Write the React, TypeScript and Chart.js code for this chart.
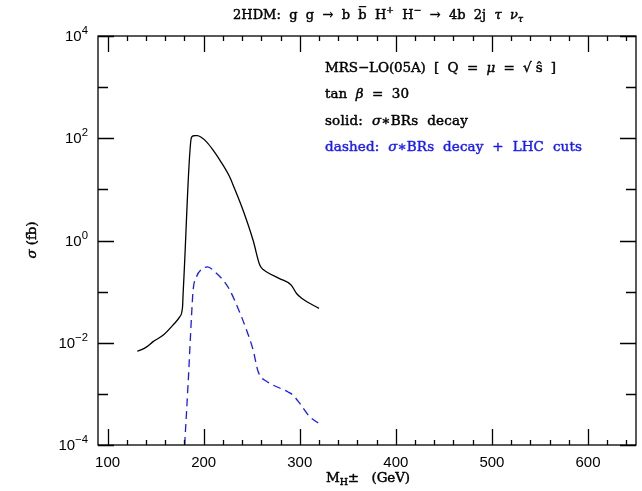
import React, { useEffect, useRef } from "react";
import { Chart, registerables } from "chart.js";

Chart.register(...registerables);

// ---- data (M_H± in GeV, sigma in fb) ----
const solidMass = [131, 136, 141, 147, 158, 168, 175, 178, 178.6, 179.3, 187.3, 190, 193.5, 197, 203, 210, 217, 227, 232, 241, 251.5, 258.4, 262, 266, 279, 291, 296.7, 302, 320];
const solidSigma = [0.0068, 0.0074, 0.0084, 0.0104, 0.0141, 0.0221, 0.032, 0.05, 0.092, 0.168, 104, 112, 113, 106, 85, 58, 37, 17.7, 10.5, 3.9, 1.0, 0.33, 0.27, 0.24, 0.18, 0.135, 0.092, 0.074, 0.047];

const dashedMass = [180.2, 183.8, 187.3, 189, 192.5, 197.7, 204, 211.6, 220.2, 227.2, 235.8, 244.6, 251.5, 256.5, 260, 265, 272.3, 287.9, 293.1, 300.1, 310.5, 320];
const dashedSigma = [0.0001, 0.0016, 0.032, 0.107, 0.195, 0.272, 0.305, 0.244, 0.168, 0.107, 0.0469, 0.0177, 0.00716, 0.0028, 0.0021, 0.00178, 0.00148, 0.00109, 0.00094, 0.00065, 0.000355, 0.000263];

const xMin = 90;
const xMax = 650;
const xTickValues = [100, 120, 140, 160, 180, 200, 220, 240, 260, 280, 300, 320, 340, 360, 380, 400, 420, 440, 460, 480, 500, 520, 540, 560, 580, 600, 620, 640];
const xLabelValues = [100, 200, 300, 400, 500, 600];
const yDecades = [-4, -3, -2, -1, 0, 1, 2, 3, 4];
const yLabelExponents = [-4, -2, 0, 2, 4];

const BLUE = "rgb(25,25,255)";
const SERIF = "'DejaVu Serif', serif";
const SANS = "'Liberation Sans', Arial, sans-serif";

type Seg = { t: string; size?: number; dy?: number; italic?: boolean; over?: boolean };

function segFont(s: Seg, base: number, fam: string) {
  const sz = Math.round(base * (s.size ?? 1) * 10) / 10;
  return `${s.italic ? "italic " : ""}${sz}px ${fam}`;
}

function naturalWidth(ctx: CanvasRenderingContext2D, segs: Seg[], base: number, fam: string) {
  let w = 0;
  let n = 0;
  (ctx as any).letterSpacing = "0px";
  for (const s of segs) {
    ctx.font = segFont(s, base, fam);
    w += ctx.measureText(s.t).width;
    n += [...s.t].length;
  }
  return { w, n };
}

function drawRich(
  ctx: CanvasRenderingContext2D,
  segs: Seg[],
  x: number,
  y: number,
  base: number,
  fam: string,
  weight: number,
  color: string,
  targetW: number | null,
  align: "left" | "right" | "center" = "left"
) {
  const { w, n } = naturalWidth(ctx, segs, base, fam);
  let ls = 0;
  if (targetW !== null && n > 0) ls = Math.max(-1, Math.min(5, (targetW - w) / n));
  const total = w + ls * n;
  let cx = align === "left" ? x : align === "right" ? x - total : x - total / 2;
  ctx.fillStyle = color;
  ctx.strokeStyle = color;
  ctx.textAlign = "left";
  ctx.textBaseline = "alphabetic";
  ctx.lineJoin = "round";
  for (const s of segs) {
    ctx.font = segFont(s, base, fam);
    (ctx as any).letterSpacing = "0px";
    const sw = ctx.measureText(s.t).width;
    (ctx as any).letterSpacing = `${ls}px`;
    ctx.fillText(s.t, cx, y + (s.dy ?? 0));
    if (weight > 0) {
      ctx.lineWidth = weight;
      ctx.strokeText(s.t, cx, y + (s.dy ?? 0));
    }
    if (s.over) {
      ctx.lineWidth = 1.2;
      ctx.beginPath();
      ctx.moveTo(cx + 0.5, y - base * 0.95);
      ctx.lineTo(cx + sw - 0.5, y - base * 0.95);
      ctx.stroke();
    }
    cx += sw + ls * [...s.t].length;
  }
  (ctx as any).letterSpacing = "0px";
}

const titleSegs: Seg[] = [
  { t: "2HDM:  g  g  \u2192  b  " },
  { t: "b", over: true },
  { t: "  H" },
  { t: "+", size: 0.7, dy: -6 },
  { t: "  H" },
  { t: "\u2212", size: 0.7, dy: -6 },
  { t: "  \u2192  4b  2j  " },
  { t: "\u03c4", italic: true },
  { t: "  " },
  { t: "\u03bd", italic: true },
  { t: "\u03c4", italic: true, size: 0.7, dy: 3 },
];

const annLine1: Seg[] = [{ t: "MRS\u2212LO(05A)  [  Q  =  " }, { t: "\u03bc", italic: true }, { t: "  =  \u221a \u015d  ]" }];
const annLine2: Seg[] = [{ t: "tan  " }, { t: "\u03b2", italic: true }, { t: "  =  30" }];
const annLine3: Seg[] = [{ t: "solid:  " }, { t: "\u03c3", italic: true }, { t: "\u2217BRs  decay" }];
const annLine4: Seg[] = [{ t: "dashed:  " }, { t: "\u03c3", italic: true }, { t: "\u2217BRs  decay  +  LHC  cuts" }];

const xTitleSegs: Seg[] = [{ t: "M" }, { t: "H", size: 0.7, dy: 3 }, { t: "\u00b1" }, { t: "   (GeV)" }];
const yTitleSegs: Seg[] = [{ t: "\u03c3", italic: true }, { t: " (fb)" }];

const TW = 0.45;

const framePlugin = {
  id: "frameAndText",
  afterDraw(chart: any) {
    const ctx: CanvasRenderingContext2D = chart.ctx;
    const { left, right, top, bottom } = chart.chartArea;
    const xs = chart.scales.x;
    const ys = chart.scales.y;
    ctx.save();
    ctx.strokeStyle = "#000";
    ctx.lineWidth = 1.3;
    ctx.strokeRect(left, top, right - left, bottom - top);
    ctx.beginPath();
    for (const v of xTickValues) {
      const px = Math.round(xs.getPixelForValue(v)) + 0.5;
      const len = v % 100 === 0 ? 16 : 5;
      ctx.moveTo(px, bottom);
      ctx.lineTo(px, bottom - len);
      ctx.moveTo(px, top);
      ctx.lineTo(px, top + len);
    }
    for (const k of yDecades) {
      const py = Math.round(ys.getPixelForValue(Math.pow(10, k))) + 0.5;
      const len = k % 2 === 0 ? 16 : 10;
      ctx.moveTo(left, py);
      ctx.lineTo(left + len, py);
      ctx.moveTo(right, py);
      ctx.lineTo(right - len, py);
    }
    ctx.stroke();

    // y tick labels 10^k
    for (const k of yLabelExponents) {
      const py = ys.getPixelForValue(Math.pow(10, k));
      const exp = k < 0 ? "\u2212" + Math.abs(k) : String(k);
      drawRich(ctx, [{ t: "10" }, { t: exp, size: 0.75, dy: -7 }], left - 10, py + 5, 15, SANS, 0, "#000", null, "right");
    }

    // title
    drawRich(ctx, titleSegs, 233, 19, 13, SERIF, TW, "#000", 290, "left");
    // annotations
    drawRich(ctx, annLine1, 325, 72, 13.5, SERIF, TW, "#000", 231, "left");
    drawRich(ctx, annLine2, 325, 98, 13.5, SERIF, TW, "#000", 84, "left");
    drawRich(ctx, annLine3, 325, 124.5, 13.5, SERIF, TW, "#000", 143, "left");
    drawRich(ctx, annLine4, 325, 151, 13.5, SERIF, TW, BLUE, 257, "left");
    // axis titles
    drawRich(ctx, xTitleSegs, 326, 482, 13.5, SERIF, TW, "#000", 84, "left");
    ctx.save();
    ctx.translate(36, 240);
    ctx.rotate(-Math.PI / 2);
    drawRich(ctx, yTitleSegs, 0, 0, 13.5, SERIF, TW, "#000", 37, "center");
    ctx.restore();
    ctx.restore();
  },
};

export default function App() {
  const ref = useRef<HTMLCanvasElement | null>(null);
  useEffect(() => {
    const canvas = ref.current;
    if (!canvas) return;
    const chart = new Chart(canvas, {
      type: "line",
      data: {
        datasets: [
          {
            label: "solid: \u03c3\u2217BRs decay",
            data: solidMass.map((m, i) => ({ x: m, y: solidSigma[i] })),
            borderColor: "#000",
            borderWidth: 1.3,
            pointRadius: 0,
            fill: false,
            cubicInterpolationMode: "monotone",
          },
          {
            label: "dashed: \u03c3\u2217BRs decay + LHC cuts",
            data: dashedMass.map((m, i) => ({ x: m, y: dashedSigma[i] })),
            borderColor: BLUE,
            borderWidth: 1.3,
            borderDash: [8, 5],
            pointRadius: 0,
            fill: false,
            cubicInterpolationMode: "monotone",
          },
        ],
      },
      options: {
        animation: false,
        responsive: false,
        devicePixelRatio: 1,
        layout: { padding: { top: 36, right: 6, left: 0, bottom: 0 } },
        plugins: { legend: { display: false }, tooltip: { enabled: false }, title: { display: false } },
        scales: {
          x: {
            type: "linear",
            min: xMin,
            max: xMax,
            grid: { display: false, drawTicks: false },
            border: { display: false },
            afterBuildTicks: (s: any) => {
              s.ticks = xTickValues.map((v) => ({ value: v }));
            },
            afterFit: (s: any) => {
              s.height = 46;
            },
            ticks: {
              autoSkip: false,
              maxRotation: 0,
              padding: 9,
              color: "#000",
              font: { family: SANS, size: 15 },
              callback: (v: any) => (xLabelValues.includes(Number(v)) ? String(v) : ""),
            },
          },
          y: {
            type: "logarithmic",
            min: 1e-4,
            max: 1e4,
            grid: { display: false, drawTicks: false },
            border: { display: false },
            afterBuildTicks: (s: any) => {
              s.ticks = yDecades.map((k) => ({ value: Math.pow(10, k) }));
            },
            afterFit: (s: any) => {
              s.width = 98;
            },
            ticks: { display: false },
          },
        },
      } as any,
      plugins: [framePlugin],
    });
    return () => chart.destroy();
  }, []);
  return (
    <div style={{ position: "fixed", left: 0, top: 0, width: 642, height: 491, background: "#fff" }}>
      <canvas ref={ref} width={642} height={491} style={{ display: "block", width: 642, height: 491 }} />
    </div>
  );
}
